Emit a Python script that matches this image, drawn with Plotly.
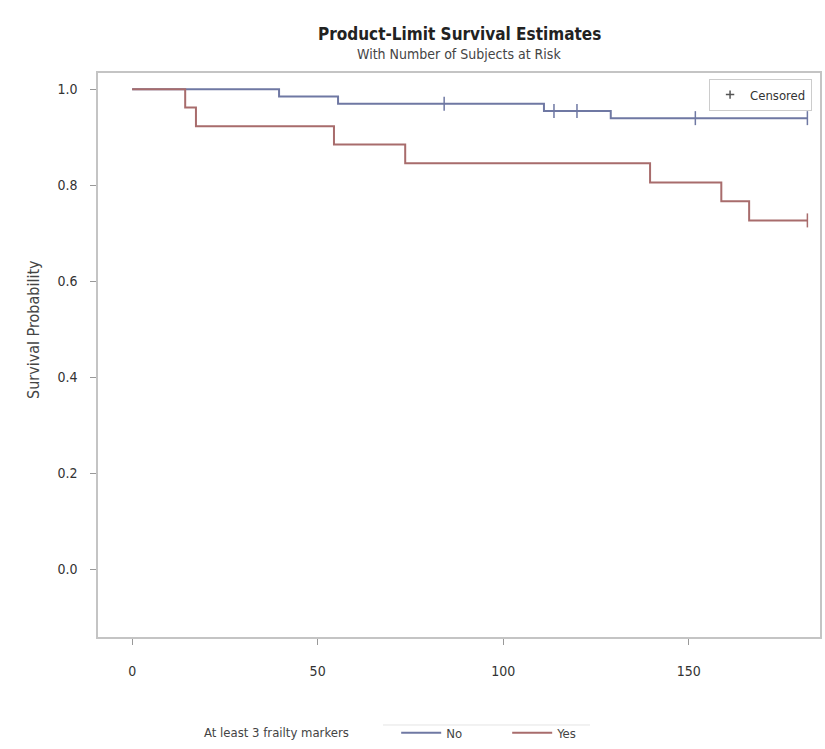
import plotly.graph_objects as go

# ---- data ----
no_times = [0, 39.6, 55.5, 111, 129, 182]
no_surv = [1.0, 0.985, 0.970, 0.955, 0.940, 0.940]
no_cens_t = [84.1, 113.7, 119.9, 151.8, 182]
no_cens_s = [0.970, 0.955, 0.955, 0.940, 0.940]

yes_times = [0, 14.3, 17.2, 54.4, 73.6, 139.6, 158.8, 166.3, 182]
yes_surv = [1.0, 0.962, 0.923, 0.885, 0.846, 0.806, 0.767, 0.727, 0.727]
yes_cens_t = [182]
yes_cens_s = [0.727]

x_ticks = [0, 50, 100, 150]
y_ticks = [0.0, 0.2, 0.4, 0.6, 0.8, 1.0]
groups = ["No", "Yes"]

BLUE = "#6f78a3"
RED = "#a86c6c"
FONT = "Liberation Sans Narrow, DejaVu Sans Condensed, Liberation Sans, Arial, sans-serif"

fig = go.Figure()
fig.add_trace(go.Scatter(x=no_times, y=no_surv, mode="lines", line_shape="hv",
                         line=dict(color=BLUE, width=2), name=groups[0], legend="legend"))
fig.add_trace(go.Scatter(x=yes_times, y=yes_surv, mode="lines", line_shape="hv",
                         line=dict(color=RED, width=2), name=groups[1], legend="legend"))
fig.add_trace(go.Scatter(x=no_cens_t, y=no_cens_s, mode="markers", showlegend=False,
                         marker=dict(symbol="line-ns", size=10, line=dict(color=BLUE, width=1.5))))
fig.add_trace(go.Scatter(x=yes_cens_t, y=yes_cens_s, mode="markers", showlegend=False,
                         marker=dict(symbol="line-ns", size=10, line=dict(color=RED, width=1.5))))
fig.add_trace(go.Scatter(x=[None], y=[None], mode="markers", name="Censored", legend="legend2",
                         marker=dict(symbol="cross-thin", size=6, line=dict(color="#555555", width=1.5))))

fig.update_layout(
    width=825, height=749,
    margin=dict(l=98, r=5, t=73, b=112, autoexpand=False),
    paper_bgcolor="white", plot_bgcolor="white",
    font=dict(family=FONT, color="#333333", size=12),
    showlegend=True,
    xaxis=dict(range=[-9.2, 185.4], tickvals=x_ticks, ticks="outside", ticklen=6,
               tickcolor="#999999", showgrid=False, zeroline=False, showline=True,
               linecolor="#c4c4c4", linewidth=1.5, mirror=True, ticklabelstandoff=14,
               automargin=False, tickfont=dict(size=14, color="#333333")),
    yaxis=dict(range=[-0.1406, 1.034], tickvals=y_ticks, tickformat=".1f", ticks="outside",
               ticklen=6, tickcolor="#999999", showgrid=False, zeroline=False, showline=True,
               linecolor="#c4c4c4", linewidth=1.5, mirror=True, ticklabelstandoff=10,
               automargin=False, tickfont=dict(size=14, color="#333333")),
    legend=dict(orientation="h", x=0.413, xanchor="left", y=-0.170, yanchor="middle",
                font=dict(size=13, color="#444444"), bgcolor="rgba(0,0,0,0)",
                itemwidth=40, entrywidth=56, traceorder="normal"),
    legend2=dict(x=0.989, xanchor="right", y=0.99, yanchor="top",
                 bordercolor="#cccccc", borderwidth=1, bgcolor="rgba(255,255,255,0)",
                 font=dict(size=13, color="#333333"), itemwidth=30,
                 tracegroupgap=0),
    annotations=[
        dict(text="<b>Product-Limit Survival Estimates</b>", xref="paper", yref="paper",
             x=0.5, y=1.0, yshift=51, showarrow=False, font=dict(size=17, color="#222222")),
        dict(text="With Number of Subjects at Risk", xref="paper", yref="paper",
             x=0.5, y=1.0, yshift=29, showarrow=False, font=dict(size=14, color="#444444")),
        dict(text="Survival Probability", xref="paper", yref="paper", textangle=-90,
             x=(33 - 98) / 722, y=(637 - 330) / 564, xanchor="center", yanchor="middle",
             showarrow=False, font=dict(size=16, color="#444444")),
        dict(text="At least 3 frailty markers", xref="paper", yref="paper",
             x=(276 - 98) / 722, y=-0.170, xanchor="center", yanchor="middle",
             showarrow=False, font=dict(size=13, color="#444444")),
    ],
    shapes=[dict(type="line", xref="paper", yref="paper",
                 x0=(383 - 98) / 722, x1=(590 - 98) / 722, y0=-0.156, y1=-0.156,
                 line=dict(color="#e4e4e4", width=1))],
)

fig.write_html("out.html", config={"displayModeBar": False},
               post_script="document.body.style.margin='0';")
